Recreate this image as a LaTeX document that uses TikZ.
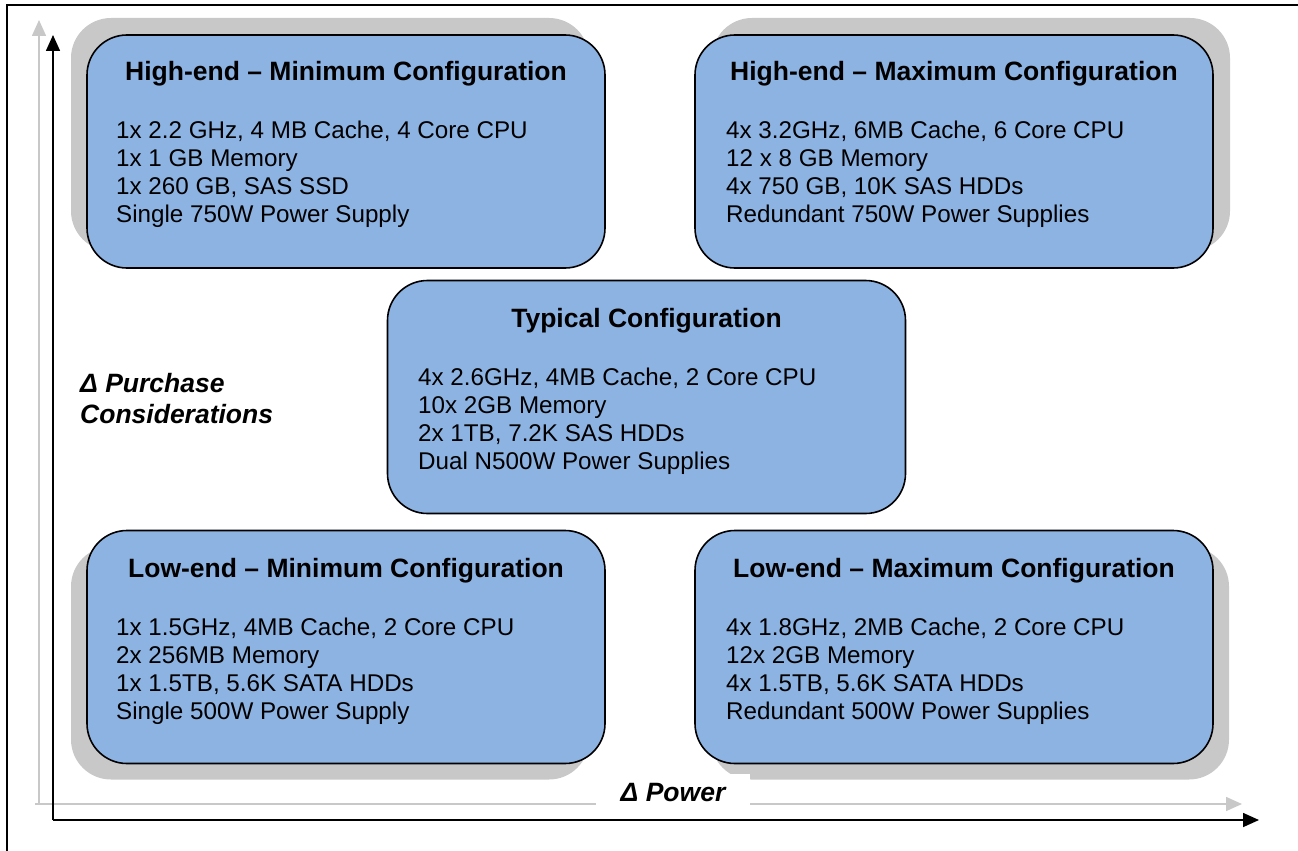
\documentclass[tikz,border=0pt]{standalone}
\usepackage{fontspec}
\setmainfont{Liberation Sans}
\usetikzlibrary{arrows.meta}
\definecolor{cfgblue}{RGB}{141,179,226}
\definecolor{shadegray}{RGB}{200,200,200}

\begin{document}
\begin{tikzpicture}[
    x=1pt, y=-1pt,
    cfgbox/.style={rectangle, rounded corners=40pt, draw=black, line width=1.6pt, fill=cfgblue, minimum width=518pt, minimum height=233pt, inner sep=0pt},
    shadebox/.style={rectangle, rounded corners=40pt, fill=shadegray, minimum width=518pt, minimum height=233pt, inner sep=0pt},
    title/.style={font=\fontsize{26.5}{30}\selectfont\bfseries, anchor=base, inner sep=0pt},
    specs/.style={font=\fontsize{24.2}{28}\selectfont, align=left, anchor=north west, inner sep=0pt},
    axlabel/.style={font=\fontsize{26.5}{31}\selectfont\bfseries\itshape, align=left, inner sep=0pt},
    axis/.style={draw=black, line width=1.6pt, -{Triangle[length=16pt,width=14pt]}},
    ghostaxis/.style={draw=shadegray, line width=1.6pt, -{Triangle[length=16pt,width=14pt]}}
]
    \useasboundingbox (0,0) rectangle (1298,851);
    \draw[line width=1.6pt] (7,851) -- (7,5) -- (1298,5);

    % Axis points
    \coordinate (g_origin) at (35,804);
    \coordinate (g_ytip) at (39,20);
    \coordinate (g_xtip) at (1242,804);
    \coordinate (origin) at (53,820);
    \coordinate (ytip) at (53,35);
    \coordinate (xtip) at (1259,820);

    % Grey axes
    \draw[ghostaxis] (g_origin -| g_ytip) -- (g_ytip);
    \draw[ghostaxis] (g_origin) -- (g_xtip);

    % Shadows
    \node[shadebox] (hmin_shade) at (330, 134.5) {};
    \node[shadebox] (hmax_shade) at (971, 134.5) {};
    \node[shadebox] (lmin_shade) at (330, 663) {};
    \node[shadebox] (lmax_shade) at (970, 663) {};

    % High-end
    \node[cfgbox] (hmin) at (346, 151.5) {};
    \node[title] (hmin_title) at (346, 81) {High-end -- Minimum Configuration};
    \node[specs] (hmin_specs) at (116, 121) {1x 2.2 GHz, 4 MB Cache, 4 Core CPU\\1x 1 GB Memory\\1x 260 GB, SAS SSD\\Single 750W Power Supply};

    \node[cfgbox] (hmax) at (954, 151.5) {};
    \node[title] (hmax_title) at (954, 81) {High-end -- Maximum Configuration};
    \node[specs] (hmax_specs) at (726, 121) {4x 3.2GHz, 6MB Cache, 6 Core CPU\\12 x 8 GB Memory\\4x 750 GB, 10K SAS HDDs\\Redundant 750W Power Supplies};

    % Typical
    \node[cfgbox] (typ) at (646.5, 397) {};
    \node[title] (typ_title) at (646.5, 327) {Typical Configuration};
    \node[specs] (typ_specs) at (418, 368) {4x 2.6GHz, 4MB Cache, 2 Core CPU\\10x 2GB Memory\\2x 1TB, 7.2K SAS HDDs\\Dual N500W Power Supplies};

    % Low-end
    \node[cfgbox] (lmin) at (346, 647) {};
    \node[title] (lmin_title) at (346, 577) {Low-end -- Minimum Configuration};
    \node[specs] (lmin_specs) at (116, 618) {1x 1.5GHz, 4MB Cache, 2 Core CPU\\2x 256MB Memory\\1x 1.5TB, 5.6K SATA HDDs\\Single 500W Power Supply};

    \node[cfgbox] (lmax) at (954, 647) {};
    \node[title] (lmax_title) at (954, 577) {Low-end -- Maximum Configuration};
    \node[specs] (lmax_specs) at (726, 618) {4x 1.8GHz, 2MB Cache, 2 Core CPU\\12x 2GB Memory\\4x 1.5TB, 5.6K SATA HDDs\\Redundant 500W Power Supplies};

    % Axis labels
    \node[axlabel, anchor=north west] (ylabel) at (80, 373) {Δ Purchase\\Considerations};
    \node[axlabel, fill=white, minimum width=154pt, minimum height=38pt] (xlabel) at (673, 793) {Δ Power};

    % Black axes
    \draw[axis] (origin) -- (ytip);
    \draw[axis] (origin) -- (xtip);
\end{tikzpicture}
\end{document}
